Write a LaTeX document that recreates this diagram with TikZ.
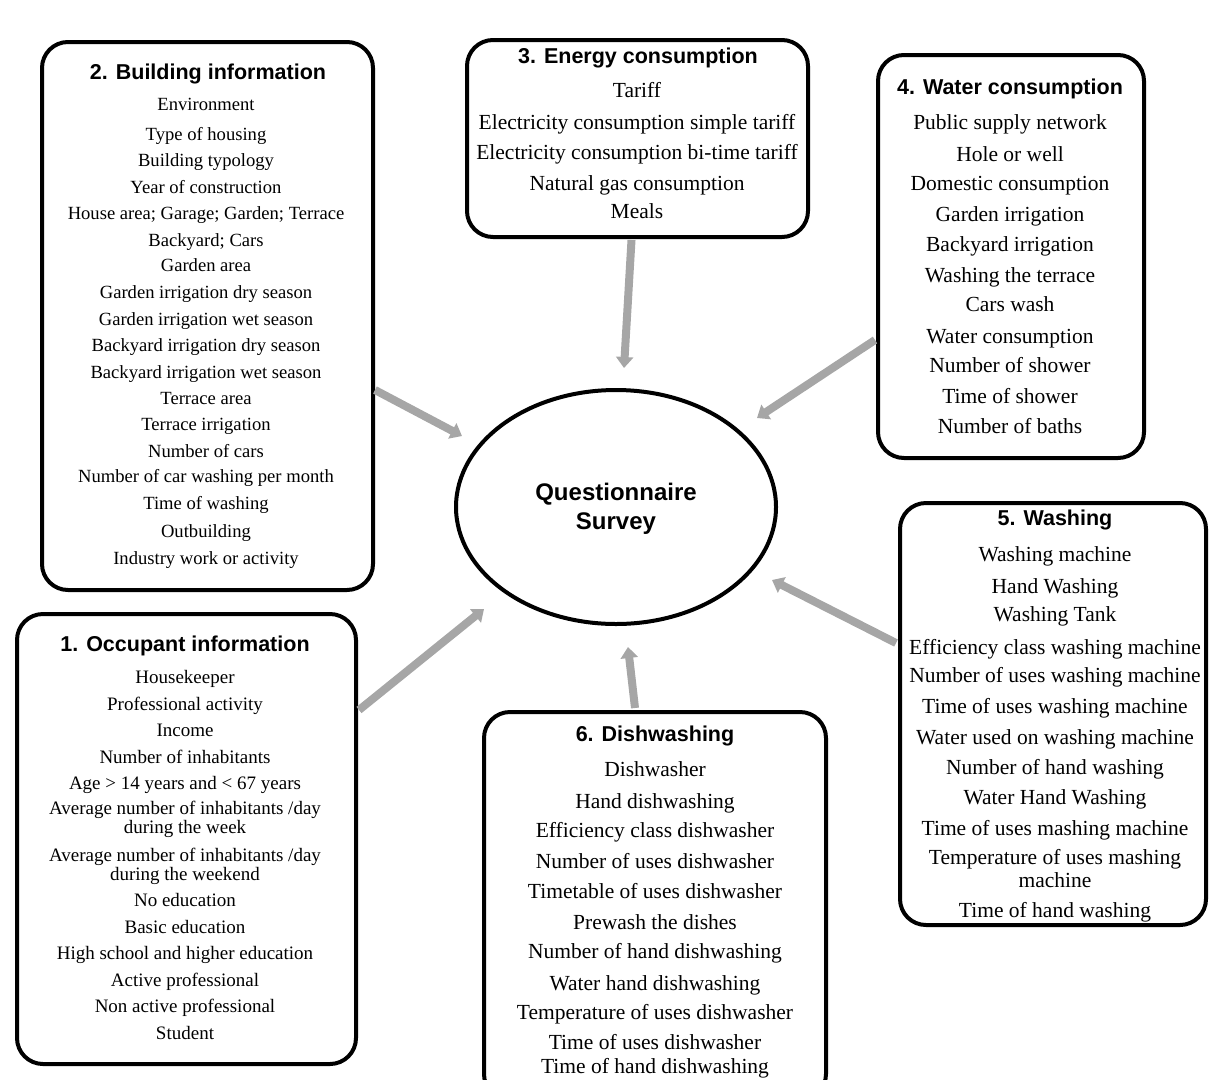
\documentclass[tikz,border=0pt]{standalone}
\usepackage{fontspec}
\setmainfont{Liberation Serif}
\newfontfamily\titlefont{Liberation Sans}
\usetikzlibrary{arrows.meta,calc,shapes.geometric}
\definecolor{arrowgray}{HTML}{A6A6A6}
\begin{document}
\begin{tikzpicture}[x=1pt,y=-1pt,
 box/.style={draw, line width=4pt, rounded corners=26pt, inner sep=0pt, rectangle},
 ttl/.style={font=\titlefont\bfseries\fontsize{21.5}{25}\selectfont, inner sep=0pt, anchor=base},
 itA/.style={font=\fontsize{19}{22}\selectfont, inner sep=0pt, anchor=base},
 itB/.style={font=\fontsize{21.5}{25}\selectfont, inner sep=0pt, anchor=base},
 arr/.style={draw=arrowgray, line width=8pt, -{Triangle[width=17pt,length=11pt]}}]
\useasboundingbox (0,0) rectangle (1209,1079);

% boxes
\node[box, minimum width=331pt, minimum height=548pt] (b2) at (207.5,316) {};
\node[box, minimum width=341pt, minimum height=197pt] (b3) at (637.5,138.5) {};
\node[box, minimum width=266pt, minimum height=403pt] (b4) at (1011,256.5) {};
\node[box, minimum width=339pt, minimum height=450pt] (b1) at (186.5,839) {};
\node[box, minimum width=342pt, minimum height=388pt] (b6) at (655,906) {};
\node[box, minimum width=306pt, minimum height=422pt] (b5) at (1053,714) {};

% central ellipse
\node[draw, ellipse, line width=4pt, minimum width=320pt, minimum height=234pt, inner sep=0pt] (q) at (616,507) {};
\node[ttl, font=\titlefont\bfseries\fontsize{24}{28}\selectfont] (q1) at (616,500.5) {Questionnaire};
\node[ttl, font=\titlefont\bfseries\fontsize{24}{28}\selectfont] (q2) at (616,529.5) {Survey};

% titles
\node[ttl] (t2) at (208,79.5) {2. Building information};
\node[ttl] (t3) at (638,63.5) {3. Energy consumption};
\node[ttl] (t4) at (1010,94.5) {4. Water consumption};
\node[ttl] (t1) at (185,651.5) {1. Occupant information};
\node[ttl] (t6) at (655,741.5) {6. Dishwashing};
\node[ttl] (t5) at (1055,525.5) {5. Washing};

% box 2 items
\foreach \yy/\tt [count=\i] in {104/{Environment},134/{Type of housing},160/{Building typology},187/{Year of construction},213/{House area; Garage; Garden; Terrace},240/{Backyard; Cars},265/{Garden area},292/{Garden irrigation dry season},319/{Garden irrigation wet season},345/{Backyard irrigation dry season},372/{Backyard irrigation wet season},398/{Terrace area},424/{Terrace irrigation},451/{Number of cars},476/{Number of car washing per month},503/{Time of washing},531/{Outbuilding},558/{Industry work or activity}}
  \node[itA, font=\fontsize{18.6}{22}\selectfont] (i2-\i) at (206,\yy+6) {\tt};

% box 3 items
\foreach \yy/\tt [count=\i] in {90/{Tariff},122/{Electricity consumption simple tariff},152/{Electricity consumption bi-time tariff},183/{Natural gas consumption},211/{Meals}}
  \node[itB] (i3-\i) at (637,\yy+7) {\tt};

% box 4 items
\foreach \yy/\tt [count=\i] in {122/{Public supply network},154/{Hole or well},183/{Domestic consumption},214/{Garden irrigation},244/{Backyard irrigation},275/{Washing the terrace},304/{Cars wash},336/{Water consumption},365/{Number of shower},396/{Time of shower},426/{Number of baths}}
  \node[itB] (i4-\i) at (1010,\yy+7) {\tt};

% box 1 items
\foreach \yy/\tt [count=\i] in {677/{Housekeeper},704/{Professional activity},730/{Income},757/{Number of inhabitants},783/{Age > 14 years and < 67 years},808/{Average number of inhabitants /day},827/{during the week},855/{Average number of inhabitants /day},874/{during the weekend},900/{No education},927/{Basic education},953/{High school and higher education},980/{Active professional},1006/{Non active professional},1033/{Student}}
  \node[itA] (i1-\i) at (185,\yy+6) {\tt};

% box 6 items
\foreach \yy/\tt [count=\i] in {769/{Dishwasher},801/{Hand dishwashing},830/{Efficiency class dishwasher},861/{Number of uses dishwasher},891/{Timetable of uses dishwasher},922/{Prewash the dishes},951/{Number of hand dishwashing},983/{Water hand dishwashing},1012/{Temperature of uses dishwasher},1042/{Time of uses dishwasher},1066/{Time of hand dishwashing}}
  \node[itB] (i6-\i) at (655,\yy+7) {\tt};

% box 5 items
\foreach \yy/\tt [count=\i] in {554/{Washing machine},586/{Hand Washing},614/{Washing Tank},647/{Efficiency class washing machine},675/{Number of uses washing machine},706/{Time of uses washing machine},737/{Water used on washing machine},767/{Number of hand washing},797/{Water Hand Washing},828/{Time of uses mashing machine},857/{Temperature of uses mashing},880/{machine},910/{Time of hand washing}}
  \node[itB] (i5-\i) at (1055,\yy+7) {\tt};

% arrow ends
\coordinate (s2) at ($(b2.east)+(0,74)$);
\coordinate (e2) at (462,436);
\coordinate (s3) at ($(b3.south)+(-6,1)$);
\coordinate (e3) at (624,368);
\coordinate (s4) at ($(b4.west)+(-1,83.5)$);
\coordinate (e4) at (757,418);
\coordinate (s5) at ($(b5.west)+(-2,-71)$);
\coordinate (e5) at (772,580);
\coordinate (s1) at ($(b1.east)+(1,-129)$);
\coordinate (e1) at (484,609);
\coordinate (s6) at ($(b6.north)+(-20,-2)$);
\coordinate (e6) at (628,647);

\draw[arr] (s2) -- (e2);
\draw[arr] (s3) -- (e3);
\draw[arr] (s4) -- (e4);
\draw[arr] (s5) -- (e5);
\draw[arr] (s1) -- (e1);
\draw[arr] (s6) -- (e6);
\end{tikzpicture}
\end{document}
